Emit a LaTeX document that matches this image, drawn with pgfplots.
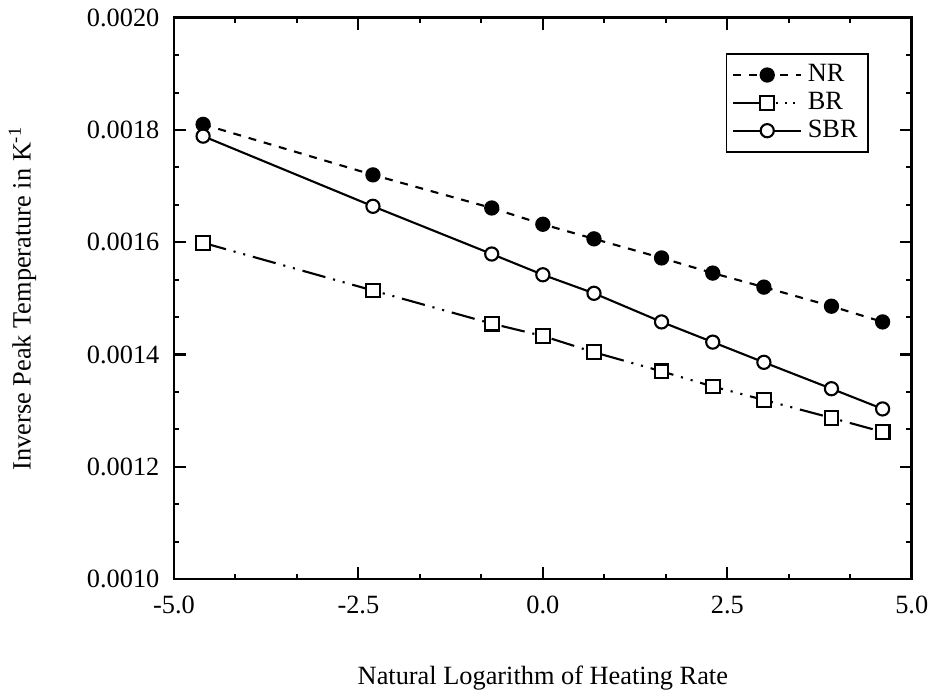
\documentclass[border=0pt]{standalone}
\usepackage{pgfplots}
\pgfplotsset{compat=1.18}
\usepackage{fontspec}
\setmainfont{Liberation Serif}

\begin{document}
\begin{tikzpicture}
\begin{axis}[
    scale only axis,
    width=280pt, height=213pt,
    xmin=-5, xmax=5,
    ymin=0.0010, ymax=0.0020,
    xtick={-5,-2.5,0,2.5,5},
    ytick={0.0010,0.0012,0.0014,0.0016,0.0018,0.0020},
    minor x tick num=2,
    minor y tick num=2,
    tick align=inside,
    major tick length=4.5pt,
    minor tick length=2pt,
    every tick/.style={black, line width=0.8pt},
    axis line style={line width=1.1pt},
    scaled y ticks=false,
    /pgf/number format/assume math mode=true,
    xticklabel style={yshift=-3pt, /pgf/number format/.cd, fixed, fixed zerofill, precision=1},
    yticklabel style={xshift=-2pt, /pgf/number format/.cd, fixed, fixed zerofill, precision=4},
    xlabel={Natural Logarithm of Heating Rate},
    ylabel={Inverse Peak Temperature in K\textsuperscript{-1}},
    xlabel style={at={(axis description cs:0.5,0)}, anchor=center, yshift=-37.7pt},
    ylabel style={at={(axis description cs:0,0.5)}, anchor=center, yshift=57.5pt},
    legend style={at={(axis description cs:0.942,0.937)}, anchor=north east,
        draw=black, line width=0.6pt, font=\normalsize, row sep=-1.5pt,
        inner sep=2pt, legend cell align=left},
    legend image code/.code={
        \draw[mark repeat=2, mark phase=2, #1] plot coordinates {(0pt,0pt) (13pt,0pt) (26pt,0pt)};
    },
]
% NR
\addplot[black, line width=0.8pt, dash pattern=on 3pt off 3pt,
    mark=*, mark size=2.5pt, mark options={solid, fill=black}]
coordinates {
(-4.605,0.001810) (-2.303,0.001720) (-0.693,0.001661) (0,0.001632) (0.693,0.001606)
(1.609,0.001572) (2.303,0.001545) (2.996,0.001520) (3.912,0.001486) (4.605,0.001458)
};
\addlegendentry{NR}
% BR
\addplot[black, line width=0.8pt, dash pattern=on 9pt off 3pt on 0.8pt off 3pt on 0.8pt off 3pt,
    mark=square*, mark size=2.6pt, mark options={solid, fill=white},
    legend image code/.code={
        \draw[black, line width=0.8pt, solid] (0pt,0pt) -- (13pt,0pt);
        \draw[black, line width=0.8pt, dash pattern=on 0.8pt off 2.5pt] (13pt,0pt) -- (26pt,0pt);
        \draw[black, line width=0.8pt, solid, fill=white] plot[mark=square*, mark size=2.6pt] coordinates {(13pt,0pt)};
    }]
coordinates {
(-4.605,0.001599) (-2.303,0.001514) (-0.693,0.001455) (0,0.001433) (0.693,0.001404)
(1.609,0.001370) (2.303,0.001343) (2.996,0.001319) (3.912,0.001287) (4.605,0.001262)
};
\addlegendentry{BR}
% SBR
\addplot[black, line width=0.8pt, solid,
    mark=*, mark size=2.5pt, mark options={solid, fill=white}]
coordinates {
(-4.605,0.001789) (-2.303,0.001664) (-0.693,0.001579) (0,0.001542) (0.693,0.001509)
(1.609,0.001458) (2.303,0.001422) (2.996,0.001386) (3.912,0.001339) (4.605,0.001303)
};
\addlegendentry{SBR}
\end{axis}
\end{tikzpicture}
\end{document}
